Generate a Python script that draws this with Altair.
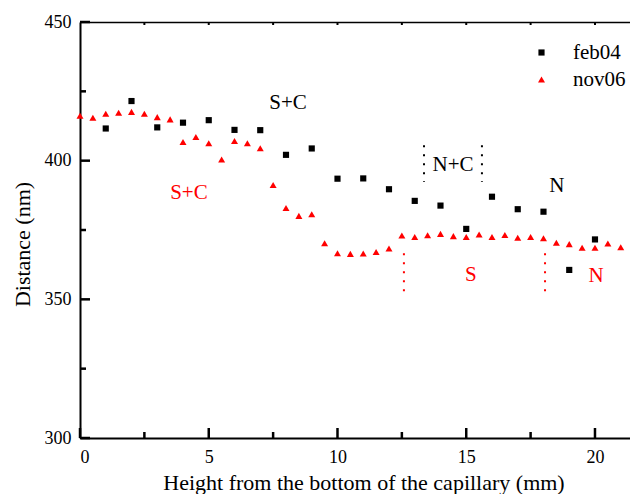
import altair as alt
import pandas as pd

# ---- data ----
feb_x = list(range(1, 21))
feb_y = [411.6, 421.5, 412.0, 413.7, 414.6, 411.1, 411.0, 402.1, 404.4, 393.5,
         393.6, 389.7, 385.5, 383.8, 375.4, 387.0, 382.5, 381.6, 360.6, 371.6]

nov_x = [i * 0.5 for i in range(43)]
nov_y = [416.2, 415.5, 416.9, 417.3, 417.6, 416.9, 415.7, 414.9, 406.7, 408.5,
         406.3, 400.4, 407.1, 406.3, 404.5, 391.2, 382.9, 380.1, 380.7, 370.2,
         366.6, 366.4, 366.5, 367.1, 368.3, 373.0, 372.5, 373.1, 373.6, 372.8,
         372.5, 373.4, 372.5, 373.2, 372.2, 372.5, 372.0, 370.4, 369.9, 368.6,
         368.6, 370.1, 368.8]

series_names = ["feb04", "nov06"]
series_colors = ["black", "red"]
series_shapes = ["square", "triangle-up"]

ann_text = ["S+C", "N+C", "N", "S+C", "S", "N"]
ann_x = [8.08, 14.49, 18.52, 4.23, 15.18, 20.04]
ann_y = [421.1, 398.8, 391.2, 388.7, 359.1, 358.7]
ann_color = ["black", "black", "black", "red", "red", "red"]

black_rule_x = [13.36, 15.61]
black_rule_top = [405.6, 405.6]
black_rule_bottom = [392.3, 392.3]

red_rule_x = [12.58, 18.06]
red_rule_top = [366.6, 366.6]
red_rule_bottom = [352.9, 352.9]

x_major = [0, 5, 10, 15, 20]
x_minor = [2.5, 7.5, 12.5, 17.5]
x_top = [2.5, 5, 7.5, 10, 12.5, 15, 17.5, 20]
y_major = [300, 350, 400, 450]
y_minor = [325, 375, 425]

# ---- tables ----
pts = pd.concat([
    pd.DataFrame({"x": feb_x, "y": feb_y, "series": "feb04"}),
    pd.DataFrame({"x": nov_x, "y": nov_y, "series": "nov06"}),
])
ann = pd.DataFrame({"x": ann_x, "y": ann_y, "t": ann_text, "c": ann_color})
brule = pd.DataFrame({"x": black_rule_x, "y": black_rule_top, "y2": black_rule_bottom})
rrule = pd.DataFrame({"x": red_rule_x, "y": red_rule_top, "y2": red_rule_bottom})

FONT = "Liberation Serif"
W, H = 550, 416
XMAX = 21.36

xs = alt.Scale(domain=[0, XMAX], nice=False, zero=False)
ys = alt.Scale(domain=[300, 450], nice=False, zero=False)

legend = alt.Legend(title=None, orient="none", legendX=451, legendY=20,
                    labelFont=FONT, labelFontSize=21, labelColor="black",
                    labelOffset=21, rowPadding=5, symbolSize=45,
                    symbolStrokeWidth=0)

points = alt.Chart(pts).mark_point(filled=True, opacity=1, strokeWidth=0).encode(
    x=alt.X("x:Q", scale=xs, axis=alt.Axis(
        orient="bottom", values=x_major, ticks=False, tickSize=0,
        domain=True, domainWidth=2, domainColor="black", grid=False,
        labelFont=FONT, labelFontSize=18, labelColor="black", labelPadding=10,
        title="Height from the bottom of the capillary (mm)", titleFont=FONT,
        titleFontSize=22, titleFontWeight="normal", titleColor="black",
        titleX=283.5, titleY=51, titleBaseline="alphabetic")),
    y=alt.Y("y:Q", scale=ys, axis=alt.Axis(
        orient="left", values=y_major, ticks=False, tickSize=0,
        domain=True, domainWidth=2, domainColor="black", grid=False,
        labelFont=FONT, labelFontSize=18, labelColor="black", labelPadding=9,
        title="Distance (nm)", titleFont=FONT, titleFontSize=22,
        titleFontWeight="normal", titleColor="black",
        titleX=-58, titleY=222, titleBaseline="middle")),
    color=alt.Color("series:N", scale=alt.Scale(domain=series_names, range=series_colors), legend=legend),
    shape=alt.Shape("series:N", scale=alt.Scale(domain=series_names, range=series_shapes), legend=legend),
    size=alt.Size("series:N", scale=alt.Scale(domain=series_names, range=[38, 49]), legend=None),
)

rules_b = alt.Chart(brule).mark_rule(color="black", strokeWidth=2, strokeDash=[2, 7]).encode(
    x=alt.X("x:Q", scale=xs, axis=alt.Axis(orient="top", ticks=False, labels=False, domain=True,
                                           domainWidth=1.5, domainColor="black", grid=False,
                                           title=None)),
    y=alt.Y("y:Q", scale=ys, axis=None),
    y2="y2:Q",
)

rules_r = alt.Chart(rrule).mark_rule(color="red", strokeWidth=2, strokeDash=[2, 7]).encode(
    x=alt.X("x:Q", scale=xs, axis=None),
    y=alt.Y("y:Q", scale=ys, axis=None),
    y2="y2:Q",
)

text = alt.Chart(ann).mark_text(font=FONT, fontSize=21, dy=1).encode(
    x=alt.X("x:Q", scale=xs, axis=None),
    y=alt.Y("y:Q", scale=ys, axis=None),
    text="t:N",
    color=alt.Color("c:N", scale=None),
)


# inward frame ticks, placed at the tick values through the shared scales
def y_ticks(values, length):
    return alt.Chart(pd.DataFrame({"y": values})).mark_rule(
        color="#000000", strokeWidth=2.5, opacity=1).encode(
        y=alt.Y("y:Q", scale=ys, axis=None),
        x=alt.value(0), x2=alt.value(length),
    )


def x_ticks(values, y0, y1, width=2.5):
    return alt.Chart(pd.DataFrame({"x": values})).mark_rule(
        color="#000000", strokeWidth=width, opacity=1).encode(
        x=alt.X("x:Q", scale=xs, axis=None),
        y=alt.value(y0), y2=alt.value(y1),
    )


tick_layers = [
    y_ticks(y_major, 10),
    y_ticks(y_minor, 6),
    x_ticks(x_major, H, H - 10),
    x_ticks(x_minor, H, H - 6),
    x_ticks(x_top, 0, 3, 2),
]

chart = alt.layer(points, rules_b, rules_r, text, *tick_layers).resolve_axis(
    x="independent", y="independent"
).properties(
    width=W, height=H,
    autosize=alt.AutoSizeParams(type="none"),
    padding={"left": 72, "top": 14, "right": 0, "bottom": 56},
).configure_view(stroke=None).configure(background="white")

chart.save("out.html", embed_options={"renderer": "svg", "actions": False})
